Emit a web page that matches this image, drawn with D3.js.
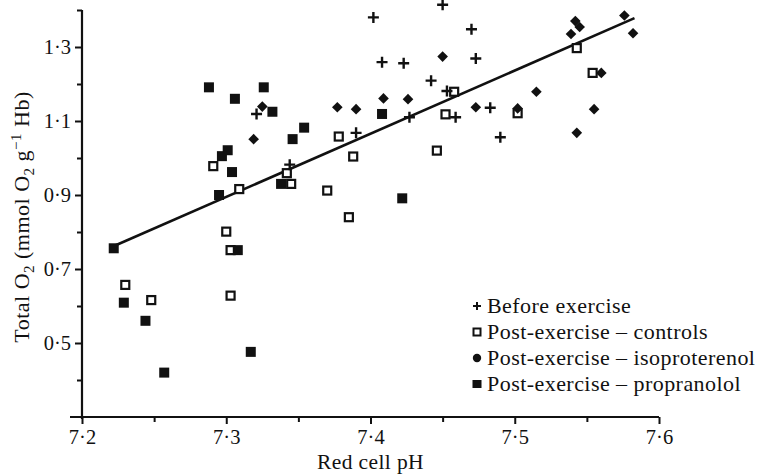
<!DOCTYPE html>
<html>
<head>
<meta charset="utf-8">
<script src="https://cdn.jsdelivr.net/npm/d3@7"></script>
<style>
  html, body { margin: 0; padding: 0; background: #fff; }
  svg { display: block; }
  text { font-family: "Liberation Serif", "DejaVu Serif", serif; fill: #111; }
</style>
</head>
<body>
<svg id="chart" width="758" height="475"></svg>
<script>
// Red cell pH vs total O2 content, four groups
const beforePH = [7.402, 7.450, 7.470, 7.473, 7.408, 7.423, 7.442, 7.453, 7.459, 7.483, 7.427, 7.390, 7.490, 7.321, 7.344];
const beforeO2 = [1.380, 1.414, 1.348, 1.269, 1.259, 1.256, 1.209, 1.181, 1.110, 1.136, 1.110, 1.068, 1.056, 1.119, 0.982];

const controlsPH = [7.291, 7.309, 7.300, 7.303, 7.303, 7.230, 7.248, 7.342, 7.345, 7.378, 7.388, 7.370, 7.385, 7.446, 7.452, 7.458, 7.502, 7.543, 7.554];
const controlsO2 = [0.978, 0.916, 0.801, 0.751, 0.628, 0.657, 0.616, 0.959, 0.930, 1.058, 1.004, 0.912, 0.840, 1.020, 1.118, 1.179, 1.121, 1.297, 1.230];

const isoPH = [7.319, 7.325, 7.377, 7.390, 7.409, 7.426, 7.450, 7.473, 7.502, 7.515, 7.543, 7.555, 7.560, 7.539, 7.542, 7.545, 7.576, 7.582];
const isoO2 = [1.051, 1.139, 1.137, 1.132, 1.161, 1.159, 1.274, 1.137, 1.134, 1.179, 1.068, 1.132, 1.230, 1.335, 1.370, 1.354, 1.385, 1.337];

const propPH = [7.288, 7.306, 7.326, 7.332, 7.301, 7.297, 7.304, 7.295, 7.346, 7.354, 7.338, 7.408, 7.422, 7.222, 7.229, 7.244, 7.257, 7.308, 7.317];
const propO2 = [1.191, 1.160, 1.191, 1.125, 1.021, 1.005, 0.962, 0.900, 1.051, 1.082, 0.930, 1.119, 0.891, 0.756, 0.609, 0.560, 0.420, 0.751, 0.476];

// Fitted regression line, end points
const fitPH = [7.221, 7.583];
const fitO2 = [0.760, 1.378];

const xMajor = [7.2, 7.3, 7.4, 7.5, 7.6];
const xMinor = [7.25, 7.35, 7.45, 7.55];
const yMajor = [0.5, 0.7, 0.9, 1.1, 1.3];
const yMinor = [0.4, 0.6, 0.8, 1.0, 1.2, 1.4];

const legendLabels = ["Before exercise", "Post-exercise \u2013 controls", "Post-exercise \u2013 isoproterenol", "Post-exercise \u2013 propranolol"];

const svg = d3.select("#chart");
const x = d3.scaleLinear().domain([7.2, 7.6]).range([82, 659]);
const y = d3.scaleLinear().domain([0.3, 1.4]).range([417, 10]);
const fmt = d => d.toFixed(1).replace(".", "\u00b7");

// y axis
const yAxisMajor = d3.axisLeft(y).tickValues(yMajor).tickSize(7).tickPadding(4).tickFormat(fmt);
const yAxisMinor = d3.axisLeft(y).tickValues(yMinor).tickSize(5).tickFormat("");
const gy = svg.append("g").attr("transform", "translate(82,0)");
gy.call(yAxisMajor);
svg.append("g").attr("transform", "translate(82,0)").call(yAxisMinor).select(".domain").remove();
gy.select(".domain").remove();
svg.append("line").attr("x1", 82).attr("x2", 82).attr("y1", y(1.4)).attr("y2", y(0.3) + 2)
  .attr("stroke", "#111").attr("stroke-width", 2.2);

// x axis
const xAxisMajor = d3.axisBottom(x).tickValues(xMajor).tickSize(7).tickPadding(5).tickFormat(fmt);
const xAxisMinor = d3.axisBottom(x).tickValues(xMinor).tickSize(5).tickFormat("");
const gx = svg.append("g").attr("transform", "translate(0,417)");
gx.call(xAxisMajor);
gx.select(".domain").remove();
svg.append("g").attr("transform", "translate(0,417)").call(xAxisMinor).select(".domain").remove();
svg.append("line").attr("x1", 70).attr("x2", x(7.6)).attr("y1", 417).attr("y2", 417)
  .attr("stroke", "#111").attr("stroke-width", 2.2);

svg.selectAll(".tick line").attr("stroke", "#111").attr("stroke-width", 2);
svg.selectAll(".tick text").style("font-family", "'Liberation Serif', serif").style("font-size", "20.5px").attr("fill", "#111");

// axis titles
svg.append("text").attr("x", x(7.4)).attr("y", 469).attr("text-anchor", "middle")
  .style("font-size", "21.5px").style("letter-spacing", "0.4px").text("Red cell pH");

const yt = svg.append("text").attr("transform", "translate(29,217) rotate(-90)")
  .attr("text-anchor", "middle").style("font-size", "22px").style("letter-spacing", "0.5px");
yt.append("tspan").text("Total O");
yt.append("tspan").attr("dy", 5).style("font-size", "15px").text("2");
yt.append("tspan").attr("dy", -5).text(" (mmol O");
yt.append("tspan").attr("dy", 5).style("font-size", "15px").text("2");
yt.append("tspan").attr("dy", -5).text(" g");
yt.append("tspan").attr("dy", -8).style("font-size", "15px").text("\u22121");
yt.append("tspan").attr("dy", 8).text(" Hb)");

// regression line
svg.append("line")
  .attr("x1", x(fitPH[0])).attr("y1", y(fitO2[0]))
  .attr("x2", x(fitPH[1])).attr("y2", y(fitO2[1]))
  .attr("stroke", "#111").attr("stroke-width", 2.6);

const pts = (a, b) => a.map((v, i) => [v, b[i]]);

// open squares: controls
svg.append("g").selectAll("rect").data(pts(controlsPH, controlsO2)).join("rect")
  .attr("x", d => x(d[0]) - 4).attr("y", d => y(d[1]) - 4)
  .attr("width", 8).attr("height", 8)
  .attr("fill", "#fff").attr("stroke", "#111").attr("stroke-width", 2.2);

// filled squares: propranolol
svg.append("g").selectAll("rect").data(pts(propPH, propO2)).join("rect")
  .attr("x", d => x(d[0]) - 5).attr("y", d => y(d[1]) - 5)
  .attr("width", 10).attr("height", 10).attr("fill", "#111");

// diamonds: isoproterenol
const diamond = d3.symbol().type(d3.symbolDiamond2).size(72);
svg.append("g").selectAll("path").data(pts(isoPH, isoO2)).join("path")
  .attr("transform", d => `translate(${x(d[0])},${y(d[1])})`)
  .attr("d", diamond).attr("fill", "#111");

// crosses: before exercise
svg.append("g").selectAll("path").data(pts(beforePH, beforeO2)).join("path")
  .attr("transform", d => `translate(${x(d[0])},${y(d[1])})`)
  .attr("d", "M-5.5,0H5.5M0,-5.5V5.5")
  .attr("stroke", "#111").attr("stroke-width", 2.4).attr("fill", "none");

// legend
const lg = svg.append("g");
const rowY = i => 306 + i * 26;
lg.append("path").attr("d", `M${477 - 4},${rowY(0)}H${477 + 4}M477,${rowY(0) - 4}V${rowY(0) + 4}`)
  .attr("stroke", "#111").attr("stroke-width", 2);
lg.append("rect").attr("x", 477 - 3.5).attr("y", rowY(1) - 3.5).attr("width", 7).attr("height", 7)
  .attr("fill", "#fff").attr("stroke", "#111").attr("stroke-width", 2);
lg.append("circle").attr("cx", 477).attr("cy", rowY(2)).attr("r", 4.2).attr("fill", "#111");
lg.append("rect").attr("x", 477 - 4.5).attr("y", rowY(3) - 4).attr("width", 9).attr("height", 8).attr("fill", "#111");
lg.selectAll("text").data(legendLabels).join("text")
  .attr("x", 487).attr("y", (d, i) => rowY(i) + 6.5)
  .style("font-size", "22px").style("letter-spacing", "0.45px").text(d => d);
</script>
</body>
</html>
